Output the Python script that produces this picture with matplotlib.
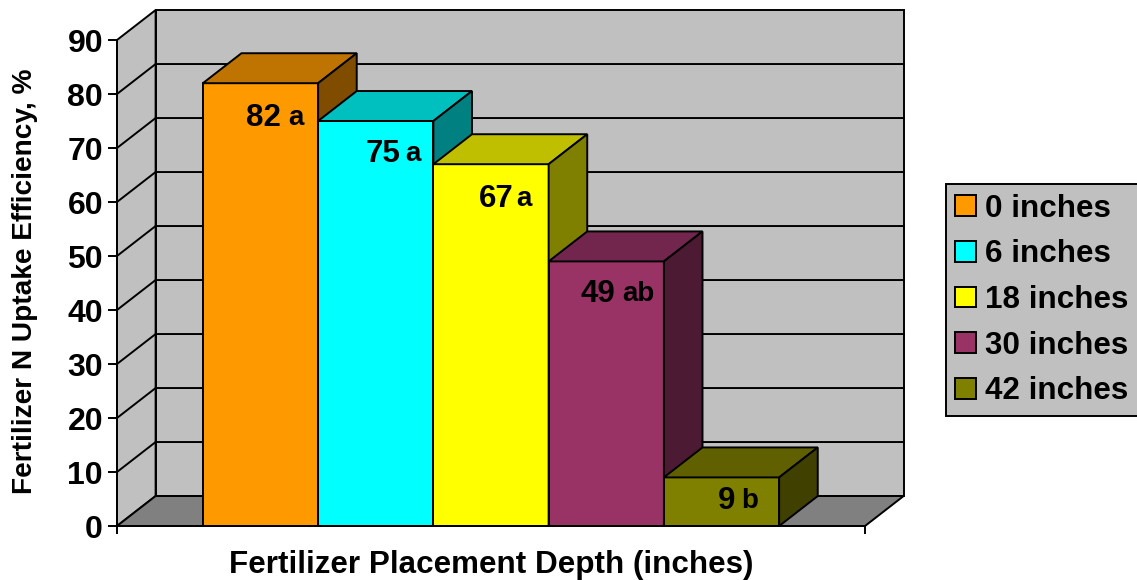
import numpy as np
import matplotlib
matplotlib.use('Agg')
import matplotlib.pyplot as plt
from matplotlib.colors import to_rgb
from matplotlib.patches import Patch, Polygon

depths = ['0 inches', '6 inches', '18 inches', '30 inches', '42 inches']
efficiency = [82, 75, 67, 49, 9]
letters = ['a', 'a', 'a', 'ab', 'b']
colors = ['#FF9900', '#00FFFF', '#FFFF00', '#993366', '#808000']
y_ticks = list(range(0, 100, 10))

plt.rcParams['font.family'] = ['Liberation Sans', 'DejaVu Sans']
plt.rcParams['font.weight'] = 'bold'

W, H = 1137, 580
fig = plt.figure(figsize=(W / 100, H / 100), dpi=100)
ax = fig.add_axes([117 / W, (H - 526) / H, 748 / W, 486 / H])
ax.patch.set_visible(False)

xmin, xmax = -1.245, 5.245
ax.set_xlim(xmin, xmax)
ax.set_ylim(0, 90)

# depth of the fake 3d box, in data units
dx = 0.335
dy = 5.55
lw = 1.4


def poly(pts, color, z):
    ax.add_patch(Polygon(pts, closed=True, facecolor=color, edgecolor='black',
                         linewidth=lw, zorder=z, clip_on=False))


# walls and floor
poly([(xmin + dx, dy), (xmax + dx, dy), (xmax + dx, 90 + dy), (xmin + dx, 90 + dy)], '#C0C0C0', 1)
poly([(xmin, 0), (xmin + dx, dy), (xmin + dx, 90 + dy), (xmin, 90)], '#C0C0C0', 1)
poly([(xmin, 0), (xmax, 0), (xmax + dx, dy), (xmin + dx, dy)], '#808080', 1)

for t in y_ticks[1:-1]:
    ax.plot([xmin, xmin + dx, xmax + dx], [t, t + dy, t + dy], color='black',
            linewidth=lw, zorder=2, clip_on=False)

# bars, left to right so each one covers the side of the one before
for i, v in enumerate(efficiency):
    z = 3 + i
    c = np.array(to_rgb(colors[i]))
    l, r = i - 0.5, i + 0.5
    ax.bar(i, v, width=1, color=colors[i], edgecolor='black', linewidth=lw, zorder=z)
    poly([(l, v), (r, v), (r + dx, v + dy), (l + dx, v + dy)], c * 0.75, z)
    poly([(r, 0), (r + dx, dy), (r + dx, v + dy), (r, v)], c * 0.5, z)

# labels: number ends and letter starts at these pixel offsets from the bar's top left
num_right = [78, 82, 80, 67, 71]
letter_left = [85, 87, 83, 74, 77]
drop_px = [35, 33, 35, 33, 24]
for i, v in enumerate(efficiency):
    xy = (i - 0.5, v)
    ax.annotate(str(v), xy, xytext=(num_right[i], -drop_px[i]), textcoords='offset pixels',
                ha='right', va='center', fontsize=22.5, zorder=20, color='black')
    ax.annotate(letters[i], xy, xytext=(letter_left[i], -drop_px[i]), textcoords='offset pixels',
                ha='left', va='center', fontsize=20, zorder=20, color='black')

ax.spines['top'].set_visible(False)
ax.spines['right'].set_visible(False)
ax.spines['left'].set_linewidth(lw)
ax.spines['bottom'].set_linewidth(lw)
ax.spines['left'].set_zorder(30)
ax.spines['bottom'].set_zorder(30)

ax.set_yticks(y_ticks)
ax.set_xticks([xmin, xmax])
ax.set_xticklabels([])
ax.tick_params(axis='y', length=6.5, width=lw, labelsize=23, pad=3.5)
ax.tick_params(axis='x', length=6, width=lw)

fig.text(491 / W, 1 - 565 / H, 'Fertilizer Placement Depth (inches)', ha='center', va='center', fontsize=22.6)
fig.text(25 / W, 1 - 281 / H, 'Fertilizer N Uptake Efficiency, %', ha='center', va='center',
         rotation=90, fontsize=20.2)

handles = [Patch(facecolor=c, edgecolor='black', linewidth=lw) for c in colors]
leg = fig.legend(handles, depths, loc='center left', bbox_to_anchor=(946 / W, 1 - 300 / H),
                 fontsize=22.6, frameon=True, fancybox=False, facecolor='#C0C0C0', edgecolor='black',
                 framealpha=1, handlelength=0.64, handleheight=0.64, handletextpad=0.3,
                 labelspacing=0.5, borderpad=0.3, borderaxespad=0)
leg.get_frame().set_linewidth(lw)

fig.savefig('out.png', dpi=100)
